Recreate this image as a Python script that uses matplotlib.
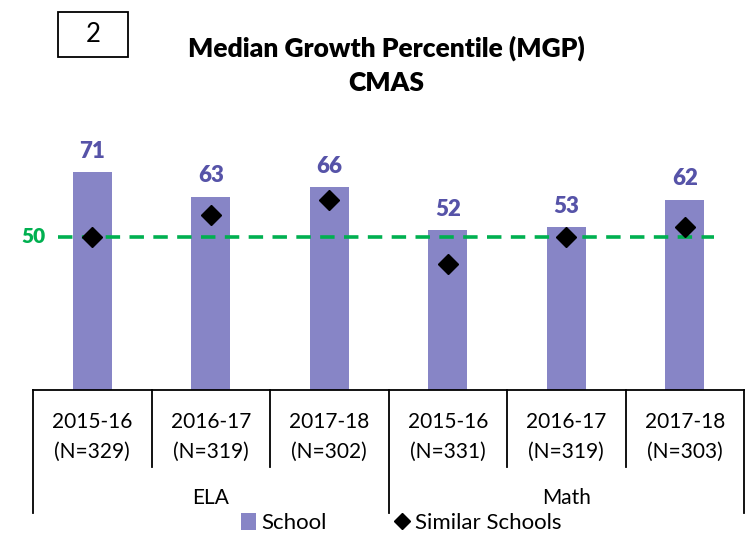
import matplotlib.pyplot as plt
from matplotlib.patches import Patch, Rectangle
from matplotlib.lines import Line2D

plt.rcParams['font.family'] = ['Lato', 'DejaVu Sans']

# data
years = ['2015-16', '2016-17', '2017-18', '2015-16', '2016-17', '2017-18']
n_counts = [329, 319, 302, 331, 319, 303]
subjects = ['ELA', 'Math']
school = [71, 63, 66, 52, 53, 62]
similar = [50, 57, 62, 41, 50, 53]
benchmark = 50

bar_color = '#8785c6'
label_color = '#5653a8'
green = '#00b050'

W, H = 745, 537
fig = plt.figure(figsize=(W / 100, H / 100), dpi=100)

# axes placed in pixel terms
left_px, right_px = 33, 744
bottom_px = 390
ymax = 80
px_per_unit = 3.07
top_px = bottom_px - ymax * px_per_unit
ax = fig.add_axes([left_px / W, 1 - bottom_px / H,
                   (right_px - left_px) / W, (bottom_px - top_px) / H])
ax_h = bottom_px - top_px

x = list(range(len(school)))
ax.bar(x, school, width=0.33, color=bar_color, zorder=2)
ax.plot(x, similar, linestyle='none', marker='D', markersize=10,
        color='black', zorder=4)

for xi, v in zip(x, school):
    ax.annotate(str(v), (xi, v), xytext=(0, 21), textcoords='offset pixels',
                ha='center', va='center', fontsize=16, fontweight='heavy',
                color=label_color)

# 50 reference line
ax.hlines(benchmark, -0.29, 5.25, colors=green, linestyles=(0, (4, 2.6)),
          linewidth=2.6, zorder=3)
ax.text(-0.5, benchmark, str(benchmark), ha='center', va='center',
        fontsize=15, fontweight='heavy', color=green)

ax.set_xlim(-0.5, 5.5)
ax.set_ylim(0, ymax)
for s in ['top', 'right', 'left']:
    ax.spines[s].set_visible(False)
ax.spines['bottom'].set_linewidth(1.3)
ax.set_xticks([])
ax.set_yticks([])

# category labels
for xi, yr, n in zip(x, years, n_counts):
    ax.annotate(yr, (xi, 0), xycoords=('data', 'axes fraction'),
                xytext=(0, -32), textcoords='offset pixels',
                ha='center', va='center', fontsize=15)
    ax.annotate(f'(N={n})', (xi, 0), xycoords=('data', 'axes fraction'),
                xytext=(0, -62), textcoords='offset pixels',
                ha='center', va='center', fontsize=15)

# separators
for b in [0.5, 1.5, 3.5, 4.5]:
    ax.plot([b, b], [0, -77 / ax_h], color='black', linewidth=1.3,
            transform=ax.get_xaxis_transform(), clip_on=False)
for b in [-0.5, 2.5, 5.5]:
    ax.plot([b, b], [0, -123 / ax_h], color='black', linewidth=1.3,
            transform=ax.get_xaxis_transform(), clip_on=False)

for gx, name in zip([1, 4], subjects):
    ax.annotate(name, (gx, 0), xycoords=('data', 'axes fraction'),
                xytext=(0, -108), textcoords='offset pixels',
                ha='center', va='center', fontsize=15)

# title and box
fig.text(386 / W, 1 - 48 / H, 'Median Growth Percentile (MGP)',
         ha='center', va='center', fontsize=19, fontweight='heavy')
fig.text(386 / W, 1 - 83 / H, 'CMAS',
         ha='center', va='center', fontsize=19, fontweight='heavy')
fig.patches.append(Rectangle((58 / W, 1 - 57 / H), 70 / W, 45 / H,
                             transform=fig.transFigure, fill=False,
                             edgecolor='black', linewidth=1.3))
fig.text(93 / W, 1 - 35 / H, '2', ha='center', va='center', fontsize=18.5)

# legend
handles = [Patch(facecolor=bar_color, edgecolor='none'),
           Line2D([], [], linestyle='none', marker='D', markersize=8.5,
                  color='black')]
fig.legend(handles, ['School', 'Similar Schools'], loc='center',
           bbox_to_anchor=(401 / W, 1 - 523 / H), ncol=2, frameon=False,
           fontsize=16, handlelength=0.7, handleheight=0.8,
           handletextpad=0.25, columnspacing=3.0, borderpad=0)

fig.savefig('out.png', dpi=100)
